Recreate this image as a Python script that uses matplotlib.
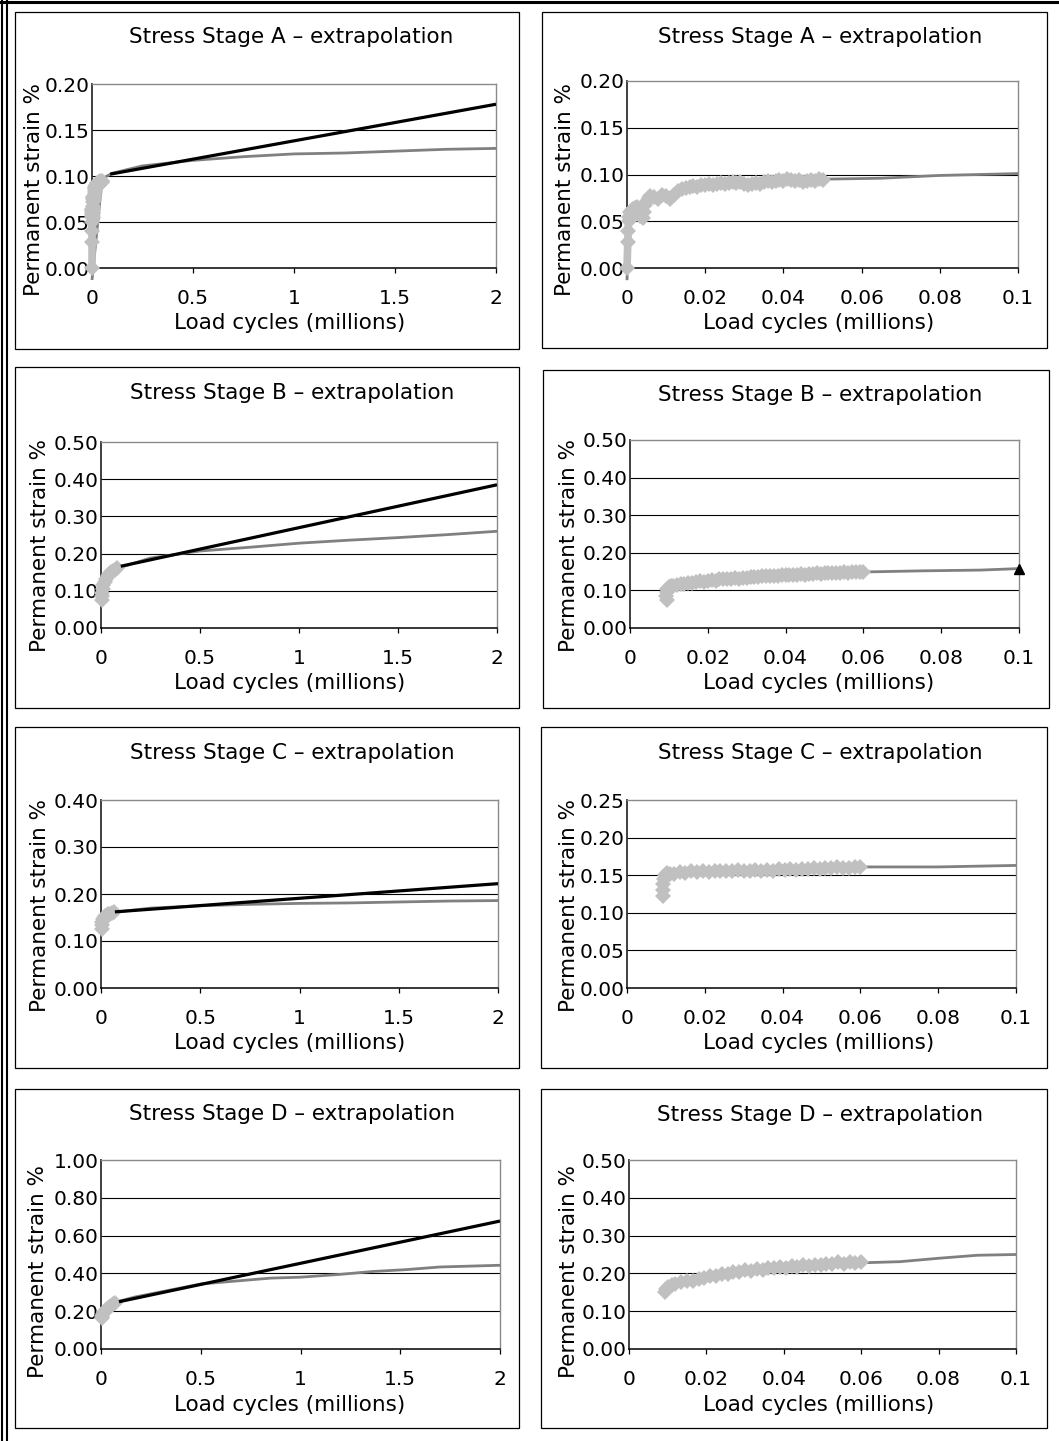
import matplotlib
matplotlib.use("Agg")
import matplotlib.pyplot as plt
from matplotlib.patches import Rectangle
from matplotlib.lines import Line2D
from matplotlib.ticker import FixedLocator, FuncFormatter

# ---------------- DATA ----------------
TITLES = ["Stress Stage A \u2013 extrapolation", "Stress Stage B \u2013 extrapolation",
          "Stress Stage C \u2013 extrapolation", "Stress Stage D \u2013 extrapolation"]
XLABEL = "Load cycles (millions)"
YLABEL = "Permanent strain %"

xticks_long = [0, 0.5, 1, 1.5, 2]
xticks_short = [0, 0.02, 0.04, 0.06, 0.08, 0.1]
yticks_A = [0.00, 0.05, 0.10, 0.15, 0.20]
yticks_B = [0.00, 0.10, 0.20, 0.30, 0.40, 0.50]
yticks_C_long = [0.00, 0.10, 0.20, 0.30, 0.40]
yticks_C_short = [0.00, 0.05, 0.10, 0.15, 0.20, 0.25]
yticks_D_long = [0.00, 0.20, 0.40, 0.60, 0.80, 1.00]
yticks_D_short = [0.00, 0.10, 0.20, 0.30, 0.40, 0.50]

# Stage A measured (millions of cycles, %)
A_meas_x = [0.0, 0.0002, 0.0003, 0.0004, 0.0006, 0.0008, 0.001, 0.0013, 0.0016, 0.002,
            0.0025, 0.003, 0.0033, 0.0036, 0.004, 0.0043, 0.0047, 0.005, 0.0055, 0.006,
            0.007, 0.008, 0.009, 0.010, 0.011, 0.012, 0.013, 0.014, 0.015, 0.016,
            0.017, 0.018, 0.019, 0.020, 0.021, 0.022, 0.023, 0.024, 0.025, 0.026,
            0.027, 0.028, 0.029, 0.030, 0.031, 0.032, 0.033, 0.034, 0.035, 0.036,
            0.037, 0.038, 0.039, 0.040, 0.041, 0.042, 0.043, 0.044, 0.045, 0.046,
            0.047, 0.048, 0.049, 0.050]
A_meas_y = [0.000, 0.028, 0.040, 0.050, 0.055, 0.060, 0.058, 0.062, 0.063, 0.064,
            0.065, 0.060, 0.056, 0.063, 0.054, 0.060, 0.067, 0.072, 0.075, 0.077,
            0.076, 0.074, 0.078, 0.077, 0.074, 0.078, 0.082, 0.084, 0.086, 0.087,
            0.088, 0.087, 0.089, 0.089, 0.090, 0.089, 0.090, 0.091, 0.090, 0.091,
            0.092, 0.091, 0.092, 0.090, 0.089, 0.090, 0.091, 0.090, 0.092, 0.093,
            0.092, 0.093, 0.094, 0.093, 0.095, 0.094, 0.093, 0.094, 0.092, 0.093,
            0.094, 0.093, 0.095, 0.094]
A_model_short_x = [0.0, 0.0005, 0.001, 0.0036, 0.01, 0.02, 0.03, 0.05, 0.065, 0.08, 0.1]
A_model_short_y = [-0.013, 0.045, 0.055, 0.069, 0.080, 0.088, 0.092, 0.095, 0.096, 0.099, 0.101]
A_model_long_x = [0.0, 0.05, 0.1, 0.25, 0.5, 0.75, 1.0, 1.25, 1.5, 1.75, 2.0]
A_model_long_y = [-0.013, 0.097, 0.103, 0.111, 0.117, 0.121, 0.124, 0.125, 0.127, 0.129, 0.130]
A_extrap_x = [0.09, 2.0]
A_extrap_y = [0.102, 0.178]

# Stage B
B_meas_long_x = [0.005, 0.004, 0.006, 0.008, 0.012, 0.018, 0.025, 0.033, 0.042, 0.052, 0.062, 0.072, 0.082]
B_meas_long_y = [0.075, 0.085, 0.095, 0.105, 0.115, 0.124, 0.132, 0.139, 0.145, 0.150, 0.154, 0.157, 0.160]
B_model_long_x = [0.08, 0.25, 0.5, 0.75, 1.0, 1.25, 1.5, 1.75, 2.0]
B_model_long_y = [0.160, 0.188, 0.207, 0.217, 0.228, 0.236, 0.243, 0.251, 0.260]
B_extrap_x = [0.1, 2.0]
B_extrap_y = [0.166, 0.385]
B_meas_short_x = [0.0095, 0.0093, 0.0094, 0.0096, 0.0100, 0.0105,
                  0.011, 0.012, 0.013, 0.014, 0.015, 0.016, 0.017, 0.018, 0.019, 0.020,
                  0.021, 0.022, 0.023, 0.024, 0.025, 0.026, 0.027, 0.028, 0.029, 0.030,
                  0.031, 0.032, 0.033, 0.034, 0.035, 0.036, 0.037, 0.038, 0.039, 0.040,
                  0.041, 0.042, 0.043, 0.044, 0.045, 0.046, 0.047, 0.048, 0.049, 0.050,
                  0.051, 0.052, 0.053, 0.054, 0.055, 0.056, 0.057, 0.058, 0.059, 0.060]
B_meas_short_y = [0.075, 0.085, 0.095, 0.103, 0.109, 0.111,
                  0.113, 0.115, 0.117, 0.118, 0.121, 0.120, 0.123, 0.124, 0.123, 0.126,
                  0.127, 0.126, 0.129, 0.130, 0.129, 0.131, 0.132, 0.131, 0.134, 0.133,
                  0.135, 0.136, 0.135, 0.137, 0.138, 0.137, 0.139, 0.138, 0.140, 0.141,
                  0.140, 0.142, 0.141, 0.143, 0.142, 0.144, 0.143, 0.145, 0.144, 0.146,
                  0.145, 0.146, 0.147, 0.146, 0.148, 0.147, 0.148, 0.149, 0.148, 0.149]
B_model_short_x = [0.06, 0.075, 0.09, 0.1]
B_model_short_y = [0.149, 0.152, 0.154, 0.158]
B_target_x = [0.1]
B_target_y = [0.158]

# Stage C
C_meas_long_x = [0.004, 0.003, 0.005, 0.008, 0.013, 0.020, 0.028, 0.037, 0.047, 0.057, 0.065]
C_meas_long_y = [0.125, 0.133, 0.140, 0.146, 0.150, 0.153, 0.155, 0.157, 0.158, 0.160, 0.161]
C_model_long_x = [0.065, 0.25, 0.5, 0.75, 1.0, 1.25, 1.5, 1.75, 2.0]
C_model_long_y = [0.161, 0.170, 0.175, 0.178, 0.180, 0.181, 0.183, 0.185, 0.186]
C_extrap_x = [0.07, 2.0]
C_extrap_y = [0.162, 0.222]
C_meas_short_x = [0.0092, 0.0092, 0.0093, 0.0094, 0.0097, 0.0103, 0.011,
                  0.0120, 0.0135, 0.0150, 0.0165, 0.0180, 0.0195, 0.0210, 0.0225, 0.0240,
                  0.0255, 0.0270, 0.0285, 0.0300, 0.0315, 0.0330, 0.0345, 0.0360, 0.0375,
                  0.0390, 0.0405, 0.0420, 0.0435, 0.0450, 0.0465, 0.0480, 0.0495, 0.0510,
                  0.0525, 0.0540, 0.0555, 0.0570, 0.0585, 0.0600]
C_meas_short_y = [0.123, 0.130, 0.138, 0.145, 0.150, 0.153, 0.152,
                  0.152, 0.154, 0.153, 0.155, 0.154, 0.155, 0.154, 0.156, 0.155,
                  0.156, 0.155, 0.157, 0.156, 0.156, 0.157, 0.156, 0.157, 0.156,
                  0.158, 0.157, 0.158, 0.157, 0.158, 0.158, 0.159, 0.158, 0.160,
                  0.159, 0.161, 0.159, 0.160, 0.161, 0.161]
C_model_short_x = [0.06, 0.062, 0.08, 0.09, 0.1]
C_model_short_y = [0.161, 0.161, 0.161, 0.162, 0.163]

# Stage D
D_meas_long_x = [0.003, 0.006, 0.010, 0.016, 0.023, 0.031, 0.040, 0.050, 0.060, 0.070]
D_meas_long_y = [0.165, 0.175, 0.185, 0.195, 0.205, 0.214, 0.222, 0.230, 0.238, 0.245]
D_model_long_x = [0.0, 0.02, 0.05, 0.08, 0.17, 0.5, 0.85, 1.0, 1.2, 1.36, 1.53, 1.7, 2.0]
D_model_long_y = [0.140, 0.190, 0.225, 0.250, 0.275, 0.344, 0.375, 0.380, 0.395, 0.410, 0.420, 0.434, 0.443]
D_extrap_x = [0.09, 2.0]
D_extrap_y = [0.250, 0.677]
D_meas_short_x = [0.0093, 0.0095, 0.0100, 0.0110, 0.0120, 0.0135, 0.0150, 0.0165, 0.0180,
                  0.0195, 0.0210, 0.0225, 0.0240, 0.0255, 0.0270, 0.0285, 0.0300, 0.0315,
                  0.0330, 0.0345, 0.0360, 0.0375, 0.0390, 0.0405, 0.0420, 0.0435, 0.0450,
                  0.0465, 0.0480, 0.0495, 0.0510, 0.0525, 0.0540, 0.0555, 0.0570, 0.0585, 0.0600]
D_meas_short_y = [0.152, 0.160, 0.165, 0.170, 0.173, 0.176, 0.180, 0.181, 0.186,
                  0.187, 0.192, 0.193, 0.198, 0.199, 0.204, 0.203, 0.208, 0.207,
                  0.211, 0.210, 0.214, 0.213, 0.216, 0.215, 0.219, 0.218, 0.221,
                  0.220, 0.223, 0.222, 0.226, 0.225, 0.229, 0.226, 0.230, 0.227, 0.229]
D_model_short_x = [0.06, 0.07, 0.08, 0.09, 0.1]
D_model_short_y = [0.228, 0.231, 0.240, 0.248, 0.250]

# ---------------- FIGURE ----------------
W, H = 1059, 1441
DPI = 100
fig = plt.figure(figsize=(W / DPI, H / DPI), dpi=DPI)
plt.rcParams['font.family'] = ['DejaVu Sans']

MEAS_C = '#C0C0C0'
MODEL_C = '#808080'
TITLE_FS = 15.5
LABEL_FS = 15.5
TICK_FS = 14.5


def fx(x):
    return x / W


def fy(y):
    return 1 - y / H


# outer table border
fig.add_artist(Line2D([fx(2), fx(2)], [fy(0), fy(H)], color='black', lw=1.5))
fig.add_artist(Line2D([fx(6.5), fx(6.5)], [fy(0), fy(H)], color='black', lw=1.5))
fig.add_artist(Line2D([fx(0), fx(W)], [fy(1.5), fy(1.5)], color='black', lw=2.2))

# layout: box (x0,y0,x1,y1), axes (l,t,r,b), title (x,y), xlabel (x,y), ylabel (x,y)
panels = [
    # left column
    dict(box=(15, 12, 519, 349), ax=(92, 84, 496, 268), title=(291, 37), xl=(290, 323), yl=(34, 190)),
    dict(box=(15, 367, 519, 708), ax=(101, 442, 497, 628), title=(292, 393), xl=(290, 683), yl=(40, 546)),
    dict(box=(15, 727, 519, 1068), ax=(101, 800, 498, 988), title=(292, 753), xl=(290, 1043), yl=(40, 906)),
    dict(box=(15, 1089, 519, 1428), ax=(101, 1160, 500, 1349), title=(292, 1114), xl=(290, 1405), yl=(38, 1272)),
    # right column
    dict(box=(542, 12, 1047, 348), ax=(627, 81, 1018, 268), title=(820, 37), xl=(819, 323), yl=(565, 189)),
    dict(box=(543, 370, 1049, 708), ax=(630, 440, 1019, 628), title=(820, 395), xl=(819, 683), yl=(569, 546)),
    dict(box=(541, 727, 1047, 1068), ax=(627, 800, 1016, 988), title=(820, 753), xl=(819, 1043), yl=(569, 906)),
    dict(box=(541, 1089, 1047, 1428), ax=(629, 1160, 1016, 1349), title=(820, 1115), xl=(819, 1405), yl=(569, 1272)),
]

fmt_x = FuncFormatter(lambda v, p: "%g" % round(v, 4))
fmt_y = FuncFormatter(lambda v, p: "%.2f" % v)


def make_axes(p, title, xticks, yticks):
    x0, y0, x1, y1 = p['box']
    fig.add_artist(Rectangle((fx(x0), fy(y1)), fx(x1 - x0), (y1 - y0) / H,
                             transform=fig.transFigure, fill=False, ec='black', lw=0.9))
    l, t, r, b = p['ax']
    ax = fig.add_axes([fx(l), fy(b), fx(r - l), (b - t) / H])
    ax.set_xlim(xticks[0], xticks[-1])
    ax.set_ylim(yticks[0], yticks[-1])
    ax.xaxis.set_major_locator(FixedLocator(xticks))
    ax.yaxis.set_major_locator(FixedLocator(yticks))
    ax.xaxis.set_major_formatter(fmt_x)
    ax.yaxis.set_major_formatter(fmt_y)
    ax.tick_params(axis='x', direction='out', length=3.5, width=0.9, pad=11.5,
                   labelsize=TICK_FS, color='black')
    ax.tick_params(axis='y', length=0, pad=1.5, labelsize=TICK_FS)
    ax.set_axisbelow(True)
    ax.yaxis.grid(True, color='black', lw=0.8)
    gl = ax.get_ygridlines()
    gl[0].set_visible(False)
    gl[-1].set_visible(False)
    ax.spines['left'].set_color('#303030')
    ax.spines['left'].set_linewidth(1.3)
    ax.spines['bottom'].set_color('black')
    ax.spines['bottom'].set_linewidth(1.1)
    for s in ('top', 'right'):
        ax.spines[s].set_color('#8a8a8a')
        ax.spines[s].set_linewidth(1.0)
    tx, ty = p['title']
    fig.text(fx(tx), fy(ty), title, ha='center', va='center', fontsize=TITLE_FS)
    ax.set_xlabel(XLABEL, fontsize=LABEL_FS)
    ax.set_ylabel(YLABEL, fontsize=LABEL_FS)
    xlx, xly = p['xl']
    ax.xaxis.set_label_coords((xlx - l) / (r - l), (b - xly) / (b - t))
    ax.xaxis.label.set_va('center')
    ylx, yly = p['yl']
    ax.yaxis.set_label_coords((ylx - l) / (r - l), (b - yly) / (b - t))
    ax.yaxis.label.set_va('center')
    ax.yaxis.label.set_ha('center')
    ax.set_facecolor('white')
    return ax


def draw(ax, mx, my, modx, mody, ex=None, ey=None):
    ax.plot(modx, mody, color=MODEL_C, lw=2.0, zorder=3, clip_on=False, solid_capstyle='butt')
    ax.plot(mx, my, color=MEAS_C, lw=5.5, marker='D', markersize=8, markeredgewidth=0,
            zorder=4, clip_on=False, solid_joinstyle='round')
    if ex is not None:
        ax.plot(ex, ey, color='black', lw=2.3, zorder=5, solid_capstyle='butt')


# left column
ax = make_axes(panels[0], TITLES[0], xticks_long, yticks_A)
draw(ax, A_meas_x, A_meas_y, A_model_long_x, A_model_long_y, A_extrap_x, A_extrap_y)
ax = make_axes(panels[1], TITLES[1], xticks_long, yticks_B)
draw(ax, B_meas_long_x, B_meas_long_y, B_model_long_x, B_model_long_y, B_extrap_x, B_extrap_y)
ax = make_axes(panels[2], TITLES[2], xticks_long, yticks_C_long)
draw(ax, C_meas_long_x, C_meas_long_y, C_model_long_x, C_model_long_y, C_extrap_x, C_extrap_y)
ax = make_axes(panels[3], TITLES[3], xticks_long, yticks_D_long)
draw(ax, D_meas_long_x, D_meas_long_y, D_model_long_x, D_model_long_y, D_extrap_x, D_extrap_y)

# right column
ax = make_axes(panels[4], TITLES[0], xticks_short, yticks_A)
draw(ax, A_meas_x, A_meas_y, A_model_short_x, A_model_short_y)
ax = make_axes(panels[5], TITLES[1], xticks_short, yticks_B)
draw(ax, B_meas_short_x, B_meas_short_y, B_model_short_x, B_model_short_y)
ax.plot(B_target_x, B_target_y, linestyle='none', marker='^', color='black',
        markersize=7, zorder=6, clip_on=False)
ax = make_axes(panels[6], TITLES[2], xticks_short, yticks_C_short)
draw(ax, C_meas_short_x, C_meas_short_y, C_model_short_x, C_model_short_y)
ax = make_axes(panels[7], TITLES[3], xticks_short, yticks_D_short)
draw(ax, D_meas_short_x, D_meas_short_y, D_model_short_x, D_model_short_y)

fig.savefig('out.png', dpi=DPI, facecolor='white')
